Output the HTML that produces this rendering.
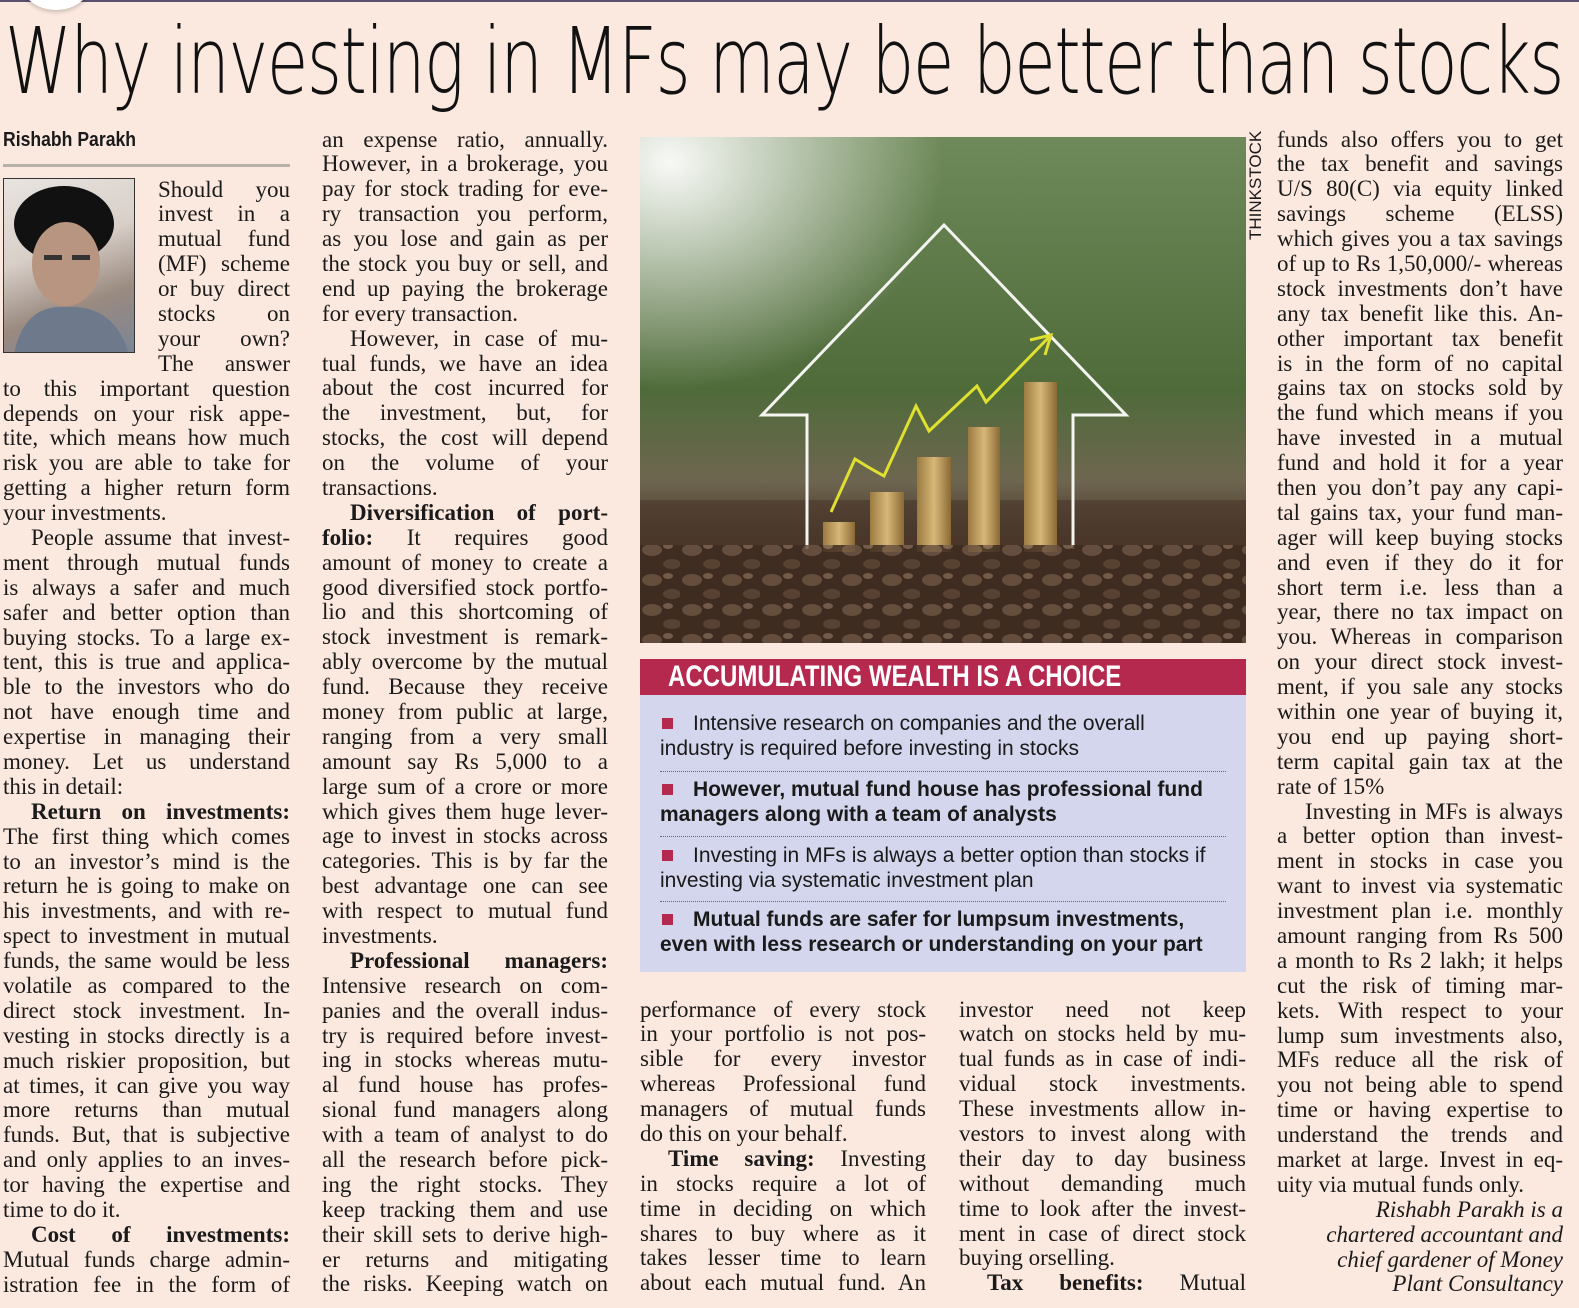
<!DOCTYPE html>
<html><head><meta charset="utf-8">
<style>
*{margin:0;padding:0;box-sizing:border-box}
body{width:1579px;height:1308px;background:#fbe8de;position:relative;overflow:hidden;font-family:"Liberation Serif",serif;color:#1a1a1a}
.topline{position:absolute;left:0;top:0;width:1579px;height:2px;background:#5a5070}
.circ{position:absolute;left:20px;top:-50px;width:72px;height:60px;border-radius:50%;background:#fff;box-shadow:0 2px 4px rgba(0,0,0,.2)}
h1{position:absolute;left:5px;top:15px;font-family:"DejaVu Sans ExtraLight","DejaVu Sans","Liberation Sans",sans-serif;font-weight:200;font-size:92px;line-height:93px;white-space:nowrap;transform-origin:left top;letter-spacing:-2px;color:#111}
.by{position:absolute;left:3px;top:128px;font-family:"Liberation Sans",sans-serif;font-weight:bold;font-size:20px;line-height:24px;transform:scaleX(.88);transform-origin:left}
.rule{position:absolute;left:3px;top:164px;width:287px;height:3px;background:#b8b0aa}
.photo{position:absolute;left:3px;top:178px;width:132px;height:175px;border:1px solid #333;background:linear-gradient(160deg,#e8e4e0 0%,#d8cfc8 40%,#9a8a80 70%,#7c8594 100%);overflow:hidden}
.col{position:absolute;font-size:23px;line-height:24.9px}
.l{height:24.9px;white-space:nowrap;overflow:visible}
.l>span{display:inline-block;transform-origin:left center}
.i{padding-left:28px}
.n{margin-left:155px}
.r{text-align:right;font-style:italic}
b{font-weight:bold}
.img{position:absolute;left:640px;top:137px;width:606px;height:506px;overflow:hidden}
.thk{position:absolute;left:1244px;top:188px;font-family:"Liberation Sans",sans-serif;font-size:17px;transform:rotate(-90deg);transform-origin:center;width:104px;text-align:center;line-height:20px;margin-left:-40px;margin-top:-10px}
.bh{position:absolute;left:640px;top:659px;width:606px;height:36px;background:#b5294f;color:#fff;font-family:"Liberation Sans",sans-serif;font-weight:bold;font-size:30px;line-height:36px;padding-left:28px;white-space:nowrap}
.bh span{display:inline-block;transform:scaleX(.8);transform-origin:left}
.bb{position:absolute;left:640px;top:695px;width:606px;height:277px;background:#d3d6ec;font-family:"Liberation Sans",sans-serif;font-size:21px;line-height:25px}
.it{position:absolute;left:20px;width:566px}
.sq{display:inline-block;width:11px;height:11px;background:#b5294f;margin:0 20px 0 2px;vertical-align:1px}
.dot{position:absolute;left:20px;width:566px;border-top:1.5px dotted #666}
</style></head><body>
<div class="topline"></div><div class="circ"></div>
<h1 id="hd">Why investing in MFs may be better than stocks</h1>
<div class="by">Rishabh Parakh</div>
<div class="rule"></div>
<div class="photo"><svg width="132" height="175"><ellipse cx="60" cy="45" rx="50" ry="38" fill="#111"/><ellipse cx="62" cy="85" rx="34" ry="42" fill="#b89580"/><path d="M20 60 Q60 20 105 60 L100 40 Q60 5 15 45Z" fill="#111"/><rect x="40" y="76" width="18" height="5" fill="#333"/><rect x="68" y="76" width="18" height="5" fill="#333"/><path d="M10 175 Q20 125 62 128 Q110 125 125 175Z" fill="#6e7a8c"/></svg></div>

<div class="col" style="left:3px;top:177.5px;width:287px">
<div class="l n">Should you</div>
<div class="l n">invest in a</div>
<div class="l n">mutual fund</div>
<div class="l n">(MF) scheme</div>
<div class="l n">or buy direct</div>
<div class="l n">stocks on</div>
<div class="l n">your own?</div>
<div class="l n">The answer</div>
<div class="l">to this important question</div>
<div class="l">depends on your risk appe-</div>
<div class="l">tite, which means how much</div>
<div class="l">risk you are able to take for</div>
<div class="l">getting a higher return form</div>
<div class="l e">your investments.</div>
<div class="l i">People assume that invest-</div>
<div class="l">ment through mutual funds</div>
<div class="l">is always a safer and much</div>
<div class="l">safer and better option than</div>
<div class="l">buying stocks. To a large ex-</div>
<div class="l">tent, this is true and applica-</div>
<div class="l">ble to the investors who do</div>
<div class="l">not have enough time and</div>
<div class="l">expertise in managing their</div>
<div class="l">money. Let us understand</div>
<div class="l e">this in detail:</div>
<div class="l i"><b>Return on investments:</b></div>
<div class="l">The first thing which comes</div>
<div class="l">to an investor’s mind is the</div>
<div class="l">return he is going to make on</div>
<div class="l">his investments, and with re-</div>
<div class="l">spect to investment in mutual</div>
<div class="l">funds, the same would be less</div>
<div class="l">volatile as compared to the</div>
<div class="l">direct stock investment. In-</div>
<div class="l">vesting in stocks directly is a</div>
<div class="l">much riskier proposition, but</div>
<div class="l">at times, it can give you way</div>
<div class="l">more returns than mutual</div>
<div class="l">funds. But, that is subjective</div>
<div class="l">and only applies to an inves-</div>
<div class="l">tor having the expertise and</div>
<div class="l e">time to do it.</div>
<div class="l i"><b>Cost of investments:</b></div>
<div class="l">Mutual funds charge admin-</div>
<div class="l">istration fee in the form of</div>
</div>

<div class="col" style="left:322px;top:127.5px;width:286px">
<div class="l">an expense ratio, annually.</div>
<div class="l">However, in a brokerage, you</div>
<div class="l">pay for stock trading for eve-</div>
<div class="l">ry transaction you perform,</div>
<div class="l">as you lose and gain as per</div>
<div class="l">the stock you buy or sell, and</div>
<div class="l">end up paying the brokerage</div>
<div class="l e">for every transaction.</div>
<div class="l i">However, in case of mu-</div>
<div class="l">tual funds, we have an idea</div>
<div class="l">about the cost incurred for</div>
<div class="l">the investment, but, for</div>
<div class="l">stocks, the cost will depend</div>
<div class="l">on the volume of your</div>
<div class="l e">transactions.</div>
<div class="l i"><b>Diversification of port-</b></div>
<div class="l"><b>folio:</b> It requires good</div>
<div class="l">amount of money to create a</div>
<div class="l">good diversified stock portfo-</div>
<div class="l">lio and this shortcoming of</div>
<div class="l">stock investment is remark-</div>
<div class="l">ably overcome by the mutual</div>
<div class="l">fund. Because they receive</div>
<div class="l">money from public at large,</div>
<div class="l">ranging from a very small</div>
<div class="l">amount say Rs 5,000 to a</div>
<div class="l">large sum of a crore or more</div>
<div class="l">which gives them huge lever-</div>
<div class="l">age to invest in stocks across</div>
<div class="l">categories. This is by far the</div>
<div class="l">best advantage one can see</div>
<div class="l">with respect to mutual fund</div>
<div class="l e">investments.</div>
<div class="l i"><b>Professional managers:</b></div>
<div class="l">Intensive research on com-</div>
<div class="l">panies and the overall indus-</div>
<div class="l">try is required before invest-</div>
<div class="l">ing in stocks whereas mutu-</div>
<div class="l">al fund house has profes-</div>
<div class="l">sional fund managers along</div>
<div class="l">with a team of analyst to do</div>
<div class="l">all the research before pick-</div>
<div class="l">ing the right stocks. They</div>
<div class="l">keep tracking them and use</div>
<div class="l">their skill sets to derive high-</div>
<div class="l">er returns and mitigating</div>
<div class="l">the risks. Keeping watch on</div>
</div>

<div class="img"><svg width="606" height="506" viewBox="640 137 606 506">
<defs>
<linearGradient id="g" x1="0" y1="0" x2="0" y2="1"><stop offset="0" stop-color="#6f8a5a"/><stop offset=".5" stop-color="#4f6b3a"/><stop offset=".68" stop-color="#6e6650"/><stop offset=".78" stop-color="#4d3a2c"/><stop offset="1" stop-color="#3e2c22"/></linearGradient>
<radialGradient id="w" cx="0.05" cy="0.05" r="0.45"><stop offset="0" stop-color="#fff" stop-opacity=".95"/><stop offset="1" stop-color="#fff" stop-opacity="0"/></radialGradient>
<linearGradient id="c" x1="0" x2="1"><stop offset="0" stop-color="#9a7a40"/><stop offset=".5" stop-color="#d8b878"/><stop offset="1" stop-color="#8a6a35"/></linearGradient>
<pattern id="s" width="40" height="30" patternUnits="userSpaceOnUse"><rect width="40" height="30" fill="#3d2b20"/><ellipse cx="12" cy="10" rx="10" ry="6" fill="#6a5240"/><ellipse cx="32" cy="24" rx="9" ry="5" fill="#5a4434"/><ellipse cx="28" cy="6" rx="5" ry="3" fill="#7a6250"/></pattern>
</defs>
<rect x="640" y="137" width="606" height="506" fill="url(#g)"/>
<rect x="640" y="137" width="606" height="506" fill="url(#w)"/>
<rect x="640" y="500" width="606" height="143" fill="#4a372a" opacity=".6"/>
<polyline points="807,549 807,415 762,415 944,225 1126,415 1073,415 1073,549" fill="none" stroke="#f4f4f0" stroke-width="3"/>
<rect x="823" y="522" width="32" height="30" fill="url(#c)"/>
<rect x="870" y="492" width="34" height="60" fill="url(#c)"/>
<rect x="917" y="457" width="34" height="95" fill="url(#c)"/>
<rect x="968" y="427" width="32" height="125" fill="url(#c)"/>
<rect x="1024" y="382" width="33" height="170" fill="url(#c)"/>
<polyline points="831,512 855,459 868,467 884,476 916,406 929,431 977,386 986,402 1051,335" fill="none" stroke="#e0e030" stroke-width="3"/>
<polyline points="1030,340 1051,335 1045,355" fill="none" stroke="#e0e030" stroke-width="3"/>
<rect x="640" y="545" width="606" height="98" fill="url(#s)" opacity=".85"/>
</svg></div>
<div class="thk">THINKSTOCK</div>

<div class="bh"><span>ACCUMULATING WEALTH IS A CHOICE</span></div>
<div class="bb">
<div class="it" style="top:16px"><span class="sq"></span>Intensive research on companies and the overall<br>industry is required before investing in stocks</div>
<div class="dot" style="top:76px"></div>
<div class="it" style="top:82px;font-weight:bold"><span class="sq"></span>However, mutual fund house has professional fund<br>managers along with a team of analysts</div>
<div class="dot" style="top:141px"></div>
<div class="it" style="top:148px"><span class="sq"></span>Investing in MFs is always a better option than stocks if<br>investing via systematic investment plan</div>
<div class="dot" style="top:206px"></div>
<div class="it" style="top:212px;font-weight:bold"><span class="sq"></span>Mutual funds are safer for lumpsum investments,<br>even with less research or understanding on your part</div>
</div>

<div class="col" style="left:640px;top:997.5px;width:286px">
<div class="l">performance of every stock</div>
<div class="l">in your portfolio is not pos-</div>
<div class="l">sible for every investor</div>
<div class="l">whereas Professional fund</div>
<div class="l">managers of mutual funds</div>
<div class="l e">do this on your behalf.</div>
<div class="l i"><b>Time saving:</b> Investing</div>
<div class="l">in stocks require a lot of</div>
<div class="l">time in deciding on which</div>
<div class="l">shares to buy where as it</div>
<div class="l">takes lesser time to learn</div>
<div class="l">about each mutual fund. An</div>
</div>

<div class="col" style="left:959px;top:997.5px;width:287px">
<div class="l">investor need not keep</div>
<div class="l">watch on stocks held by mu-</div>
<div class="l">tual funds as in case of indi-</div>
<div class="l">vidual stock investments.</div>
<div class="l">These investments allow in-</div>
<div class="l">vestors to invest along with</div>
<div class="l">their day to day business</div>
<div class="l">without demanding much</div>
<div class="l">time to look after the invest-</div>
<div class="l">ment in case of direct stock</div>
<div class="l e">buying orselling.</div>
<div class="l i"><b>Tax benefits:</b> Mutual</div>
</div>

<div class="col" style="left:1277px;top:127.5px;width:286px">
<div class="l">funds also offers you to get</div>
<div class="l">the tax benefit and savings</div>
<div class="l">U/S 80(C) via equity linked</div>
<div class="l">savings scheme (ELSS)</div>
<div class="l">which gives you a tax savings</div>
<div class="l">of up to Rs 1,50,000/- whereas</div>
<div class="l">stock investments don’t have</div>
<div class="l">any tax benefit like this. An-</div>
<div class="l">other important tax benefit</div>
<div class="l">is in the form of no capital</div>
<div class="l">gains tax on stocks sold by</div>
<div class="l">the fund which means if you</div>
<div class="l">have invested in a mutual</div>
<div class="l">fund and hold it for a year</div>
<div class="l">then you don’t pay any capi-</div>
<div class="l">tal gains tax, your fund man-</div>
<div class="l">ager will keep buying stocks</div>
<div class="l">and even if they do it for</div>
<div class="l">short term i.e. less than a</div>
<div class="l">year, there no tax impact on</div>
<div class="l">you. Whereas in comparison</div>
<div class="l">on your direct stock invest-</div>
<div class="l">ment, if you sale any stocks</div>
<div class="l">within one year of buying it,</div>
<div class="l">you end up paying short-</div>
<div class="l">term capital gain tax at the</div>
<div class="l e">rate of 15%</div>
<div class="l i">Investing in MFs is always</div>
<div class="l">a better option than invest-</div>
<div class="l">ment in stocks in case you</div>
<div class="l">want to invest via systematic</div>
<div class="l">investment plan i.e. monthly</div>
<div class="l">amount ranging from Rs 500</div>
<div class="l">a month to Rs 2 lakh; it helps</div>
<div class="l">cut the risk of timing mar-</div>
<div class="l">kets. With respect to your</div>
<div class="l">lump sum investments also,</div>
<div class="l">MFs reduce all the risk of</div>
<div class="l">you not being able to spend</div>
<div class="l">time or having expertise to</div>
<div class="l">understand the trends and</div>
<div class="l">market at large. Invest in eq-</div>
<div class="l e">uity via mutual funds only.</div>
<div class="l r e">Rishabh Parakh is a</div>
<div class="l r e">chartered accountant and</div>
<div class="l r e">chief gardener of Money</div>
<div class="l r e">Plant Consultancy</div>
</div>

<script>
(function(){
var h=document.getElementById('hd');var hw=h.scrollWidth;if(hw>0)h.style.transform='scaleX('+(1558/hw)+')';
var ls=document.querySelectorAll('.l');
for(var k=0;k<ls.length;k++){
 var d=ls[k];var s=document.createElement('span');
 while(d.firstChild)s.appendChild(d.firstChild);d.appendChild(s);
 var cs=getComputedStyle(d);
 var W=d.clientWidth-parseFloat(cs.paddingLeft)-parseFloat(cs.paddingRight)-parseFloat(cs.marginLeft||0)*0;
 var w=s.getBoundingClientRect().width;
 if(d.classList.contains('r')){ if(w>W){s.style.transform='scaleX('+(W/w)+')';} continue;}
 if(w>W){s.style.transform='scaleX('+(W/w)+')';}
 else if(!d.classList.contains('e')){
  var n=(s.textContent.match(/ /g)||[]).length;
  if(n>0){s.style.wordSpacing=((W-w)/n)+'px';}
 }
}
})();
</script>
</body></html>
